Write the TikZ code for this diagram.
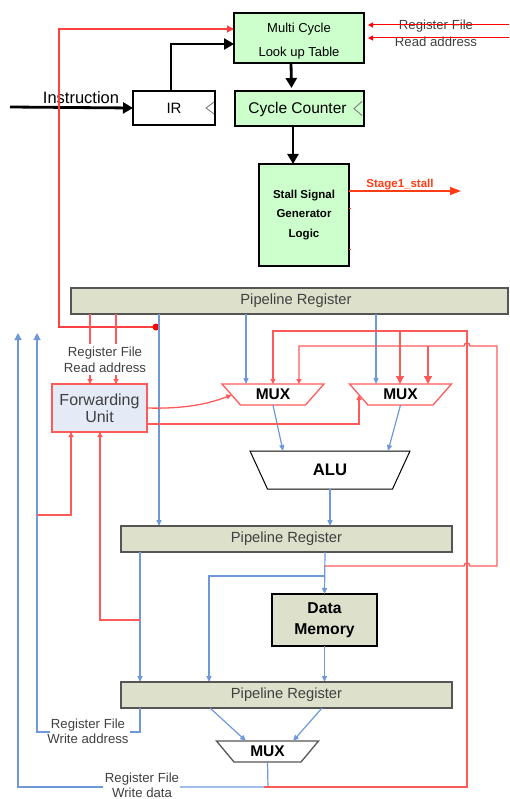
\documentclass[tikz,border=0pt]{standalone}
\usepackage{fontspec}
\setmainfont{Liberation Sans}
\usetikzlibrary{arrows.meta,calc}
\definecolor{lgreen}{RGB}{204,255,204}
\definecolor{regfill}{RGB}{221,224,203}
\definecolor{fufill}{RGB}{228,234,246}
\definecolor{wire}{RGB}{110,152,215}
\definecolor{fwd}{RGB}{255,90,90}
\definecolor{labelgray}{RGB}{64,64,64}
\definecolor{regedge}{RGB}{85,85,85}
\definecolor{stallred}{RGB}{255,60,20}
\newcommand{\txtsize}[2]{\fontsize{#1pt}{#2pt}\selectfont}

\begin{document}
\begin{tikzpicture}[x=1pt,y=-1pt,
  every node/.style={inner sep=0pt,outer sep=0pt},
  thickarrow/.style={line width=2.8pt,-{Triangle[length=10pt,width=11pt]}},
  greenbox/.style={draw=black,line width=2.6pt,fill=lgreen},
  preg/.style={draw=regedge,line width=1.5pt,fill=regfill,text=labelgray,font=\txtsize{14.7}{16}},
  wireline/.style={draw=wire,line width=1.2pt},
  wirearrow/.style={wireline,-{Triangle[length=6pt,width=5pt]}},
  uparrow/.style={wireline,-{Triangle[length=7pt,width=7pt]}},
  fwdline/.style={draw=fwd,line width=1.3pt},
  fwdarrow/.style={fwdline,-{Triangle[length=5pt,width=5pt]}},
  fwdbig/.style={fwdline,-{Triangle[length=8pt,width=8pt]}},
  muxbox/.style={minimum width=102pt,minimum height=21pt,font=\bfseries\txtsize{15.5}{16}},
  lbl/.style={text=labelgray,align=center,font=\txtsize{13.2}{15}}]

\useasboundingbox (0,0) rectangle (509,799);

% ---------- instruction decode / stall generation ----------
\node[greenbox,minimum width=130pt,minimum height=50pt] (lut) at (299,38) {};
\node[align=center,font=\txtsize{13}{24}] at (299,41) {Multi Cycle\\Look up Table};

\node[draw,line width=1.8pt,fill=white,minimum width=82pt,minimum height=34pt,
  font=\txtsize{15}{16}] (ir) at (174,108) {IR};
\draw[gray,line width=0.9pt] ($(ir.east)+(-1,-6)$) -- ++(-8,6) -- ++(8,6);

\node[greenbox,minimum width=129pt,minimum height=35pt] (cc) at (299.5,108.5) {};
\node[font=\txtsize{15.5}{16}] at (297.5,109) {Cycle Counter};
\draw[gray,line width=0.9pt] ($(cc.east)+(-2,-7)$) -- ++(-8,7) -- ++(8,7);

\node[greenbox,minimum width=90pt,minimum height=102pt,align=center,
  font=\bfseries\txtsize{11.5}{19.5}] (stall) at (304,215)
  {Stall Signal\\Generator\\Logic};
\draw[stallred,line width=0.8pt] ($(stall.east)+(0,-7)$) -- ++(2,0);
\draw[stallred,line width=0.8pt] ($(stall.east)+(0,34)$) -- ++(2,0);

\coordinate (instr) at (10,107);
\draw[thickarrow] (instr) -- (ir.west);
\node[font=\txtsize{16.5}{18}] at (81,98) {Instruction};

\draw[thickarrow] ([xshift=-3pt]ir.north) |- ([yshift=-6pt]lut.west);
\draw[thickarrow] ([xshift=-8pt]lut.south) -- ([xshift=-8pt,yshift=3pt]cc.north);
\draw[thickarrow] ([xshift=-6.5pt]cc.south) -- ([xshift=-11pt]stall.north);

\coordinate (stallout) at (461,191);
\draw[stallred,line width=1.3pt,-{Triangle[length=11pt,width=8pt]}]
  (stall.east |- stallout) -- (stallout);
\node[text=stallred,font=\bfseries\txtsize{11.5}{12}] at (400,185) {Stage1\_stall};

\node[lbl,font=\txtsize{13.2}{17}] at (436,33.5) {Register File\\Read address};
\coordinate (rfa) at (509,25);
\coordinate (rfb) at (509,38);
\draw[draw=red,line width=1pt,-{Triangle[length=5pt,width=5pt]}] (rfa) -- ($(lut.east |- rfa)+(4,0)$);
\draw[draw=red,line width=1pt,-{Triangle[length=5pt,width=5pt]}] (rfb) -- ($(lut.east |- rfb)+(4,0)$);

% ---------- execute stage ----------
\node[preg,minimum width=437pt,minimum height=26pt] (pr1) at (289.5,301) {};
\node[text=labelgray,font=\txtsize{14.7}{16}] at (296,301) {Pipeline Register};

\node[draw=fwd,line width=1.3pt,fill=fufill,minimum width=95pt,minimum height=48pt,
  align=center,text=labelgray,font=\txtsize{16}{17}] (fu) at (99.5,408) {Forwarding\\Unit};

% operand multiplexers and ALU (trapezoids drawn round their nodes)
\node[muxbox] (mux1) at (273,394.5) {MUX};
\draw[fwdline] (mux1.north west) -- (mux1.north east) -- ([xshift=-18.5pt]mux1.south east)
  -- ([xshift=18.5pt]mux1.south west) -- cycle;
\node[muxbox] (mux2) at (400.5,394.5) {MUX};
\draw[fwdline] (mux2.north west) -- (mux2.north east) -- ([xshift=-18.5pt]mux2.south east)
  -- ([xshift=18.5pt]mux2.south west) -- cycle;
\node[minimum width=160pt,minimum height=38pt,font=\bfseries\txtsize{16.7}{18}] (alu) at (330,470) {ALU};
\draw[black,line width=1pt] (alu.north west) -- (alu.north east) -- ([xshift=-17.5pt]alu.south east)
  -- ([xshift=17.5pt]alu.south west) -- cycle;

% stall path back to the look-up table
\coordinate (fdot) at (156,327);
\draw[fwdline,-{Triangle[length=7pt,width=7pt]},draw=red!75] (fdot) -- (59,327) |- (lut.west |- 0,29);
\fill[red] (fdot) circle (3.5);

% read addresses into the forwarding unit
\draw[fwdline] (pr1.south -| 90,0) -- (90,344);
\draw[fwdline] (pr1.south -| 116,0) -- (116,344);
\draw[fwdarrow] (90,375) -- (fu.north -| 90,0);
\draw[fwdarrow] (116,375) -- (fu.north -| 116,0);
\node[lbl,font=\txtsize{13.2}{16}] at (105,360) {Register File\\Read address};

% operands
\draw[wirearrow] (pr1.south -| 246,0) -- (mux1.north -| 246,0);
\draw[wirearrow] (pr1.south -| 376,0) -- (mux2.north -| 376,0);
\draw[wirearrow] (pr1.south -| 159,0) -- (159,526);
\draw[wirearrow] (mux1.south) -- (283,451);
\draw[wirearrow] (mux2.south) -- (388,451);

% forwarding selects
\draw[fwdarrow] (fu.east) .. controls (185,409) and (208,404) .. (231.5,395);
\draw[fwdarrow] ([yshift=-16pt]fu.east) -| (359,395);

% ---------- memory stage ----------
\node[preg,minimum width=331pt,minimum height=26pt] (pr2) at (286.5,539) {Pipeline Register};
\draw[wirearrow] (alu.south) -- (alu.south |- pr2.north);

\node[draw=black,line width=1.3pt,fill=regfill,minimum width=105pt,minimum height=52pt,
  align=center,font=\bfseries\txtsize{15.7}{21}] (dm) at (324.5,620) {Data\\Memory};

\draw[wirearrow] (pr2.south -| 325,0) -- (dm.north);
\draw[wirearrow] (325,576) -- (209,576) -- (209,682);
\draw[wirearrow] (dm.south) -- (dm.south |- 0,682);
\draw[wirearrow] (pr2.south -| 140,0) -- (140,682);

% ---------- write-back stage ----------
\node[preg,minimum width=331pt,minimum height=26pt] (pr3) at (286.5,695) {Pipeline Register};
\node[muxbox] (mux3) at (267.5,751.5) {MUX};
\draw[regedge,line width=1.3pt] (mux3.north west) -- (mux3.north east) -- ([xshift=-17.5pt]mux3.south east)
  -- ([xshift=17.5pt]mux3.south west) -- cycle;

\draw[wirearrow] (pr3.south -| 210,0) -- (246,741);
\draw[wirearrow] (pr3.south -| 322,0) -- (293,741);

% write address back to the register file
\coordinate (wbaddr) at (37,333);
\draw[wireline] (pr3.south -| 140,0) -- (140,732) -- (130,732);
\draw[uparrow] (50,732) -- (37,732) -- (wbaddr);
\node[lbl] at (88,731.5) {Register File\\Write address};

% write data back to the register file
\coordinate (wbdata) at (18,333);
\coordinate (wb) at (268,787);
\draw[wireline] (mux3.south) -- (wb) -- (180,787);
\draw[uparrow] (103,787) -- (18,787) -- (wbdata);
\node[lbl] at (142,785.5) {Register File\\Write data};

% forwarding unit inputs from later stages
\draw[fwdarrow] (37,515) -- (71,515) -- (fu.south -| 71,0);
\draw[fwdarrow] (140,620) -- (100,620) -- (fu.south -| 100,0);

% forwarding paths into the operand multiplexers
\draw[fwdarrow] (264,787) -- (467,787) -- (467,331) -- (273,331) -- (mux1.north);
\draw[fwdbig] (400,331) -- (400,384);
\draw[fwdarrow] (325,566) -- (464,566) arc (180:360:3) -- (497,566) -- (497,346)
  -- (470,346) arc (0:-180:3) -- (299,346) -- (299,384);
\draw[fwdbig] (428,346) -- (428,384);

\end{tikzpicture}
\end{document}
